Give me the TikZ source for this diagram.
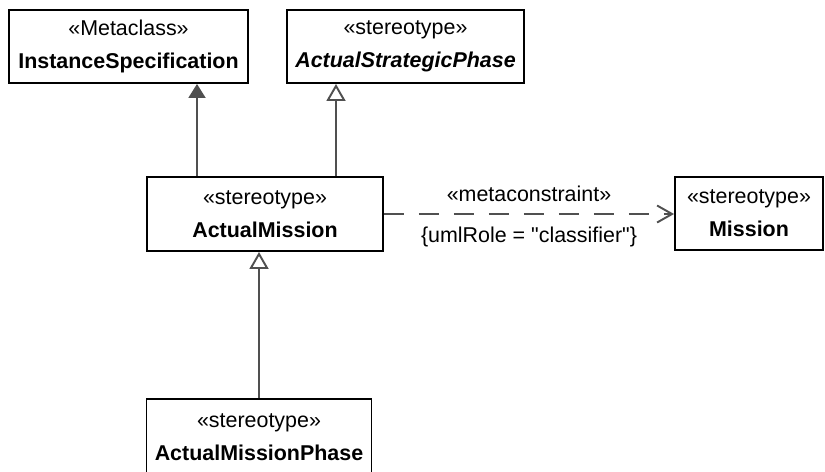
\documentclass[tikz,border=0pt]{standalone}
\usepackage{fontspec}
\setmainfont{Liberation Sans}
\usepackage{xcolor}
\usetikzlibrary{arrows.meta,calc}
\definecolor{figline}{RGB}{0,0,0}
\definecolor{figrel}{RGB}{80,80,80}
\tikzset{
  cls/.style ={draw=figline, line width=1.1pt, fill=white, align=center, inner sep=2pt,
               font=\fontsize{12.2}{18.8}\selectfont},
  rel/.style ={draw=figrel, line width=1.1pt},
  ext/.style ={rel, -{Triangle[length=0.28cm,width=0.34cm,fill=figrel]}},
  gen/.style ={rel, -{Triangle[open,length=0.34cm,width=0.38cm,fill=white,line width=1.1pt]}},
  dep/.style ={rel, dash pattern=on 0.4cm off 0.3cm, -{Straight Barb[length=0.3cm,width=0.34cm,line width=1.1pt]}},
  lab/.style ={font=\fontsize{12.2}{14}\selectfont, inner sep=1pt},
}
\newcommand{\stereo}[1]{«#1»}

\begin{document}
\begin{tikzpicture}[x=0.02cm,y=-0.02cm]
  \useasboundingbox (0,0) rectangle (825,471);
  \begin{scope}
  \clip (0,0) rectangle (825,471);
  \node[cls, minimum width=4.78cm, minimum height=1.46cm] (inst) at (128.5,46.5)
    {\stereo{Metaclass}\\\textbf{InstanceSpecification}};
  \node[cls, minimum width=4.74cm, minimum height=1.46cm] (asp) at (405.5,46.5)
    {\stereo{stereotype}\\\textbf{\textit{ActualStrategicPhase}}};
  \node[cls, minimum width=4.72cm, minimum height=1.48cm] (am) at (265,214)
    {\stereo{stereotype}\\\textbf{ActualMission}};
  \node[cls, minimum width=2.96cm, minimum height=1.46cm] (mis) at (749,213.5)
    {\stereo{stereotype}\\\textbf{Mission}};
  \node[cls, minimum width=4.5cm, minimum height=1.52cm] (amp) at (259,437)
    {\stereo{stereotype}\\\textbf{ActualMissionPhase}};
  % relations
  \coordinate (xe) at (197,0);
  \coordinate (xg) at (336,0);
  \draw[ext] (xe |- am.north) -- (xe |- inst.south);
  \draw[gen] (xg |- am.north) -- (xg |- asp.south);
  \draw[gen] (amp.north) -- (amp.north |- am.south);
  \draw[dep] (am.east) -- (am.east -| mis.west)
    node[lab, midway, above=0.2cm] (mc) {\stereo{metaconstraint}}
    node[lab, midway, below=0.2cm] (role) {\{umlRole = \textquotedbl classifier\textquotedbl\}};
  \end{scope}
\end{tikzpicture}
\end{document}
